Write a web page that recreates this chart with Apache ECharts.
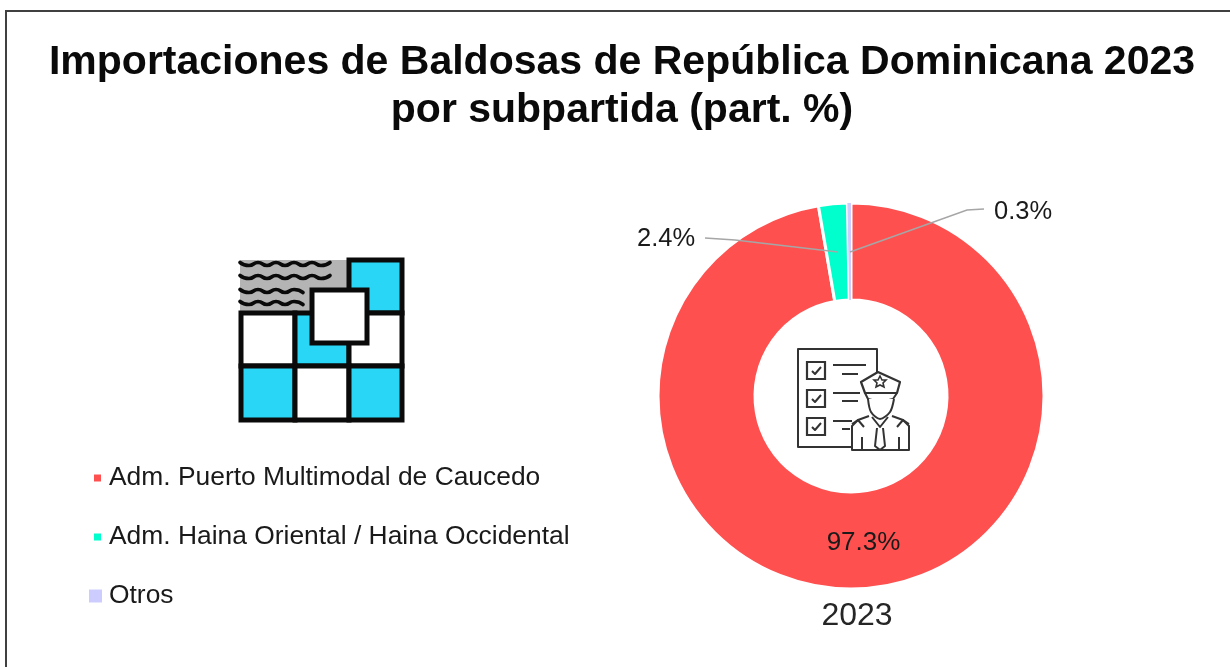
<!DOCTYPE html>
<html>
<head>
<meta charset="utf-8">
<script src="https://cdn.jsdelivr.net/npm/echarts@6/dist/echarts.min.js"></script>
<style>html,body{margin:0;padding:0;background:#fff}#c{width:1230px;height:667px}</style>
</head>
<body>
<div id="c"></div>
<script>
const titleText = 'Importaciones de Baldosas de República Dominicana 2023\npor subpartida (part. %)';
const categories = ['Adm. Puerto Multimodal de Caucedo', 'Adm. Haina Oriental / Haina Occidental', 'Otros'];
const values = [97.3, 2.4, 0.3];
const colors = ['#FF5050', '#00FFCC', '#CCCCFF'];
const yearLabel = '2023';

const FONT = '"Liberation Sans", Arial, sans-serif';
const ICON = '#333333';
const BLUE = '#29D6F6';
const K = '#0a0a0a';

function legendFor(i, left, top, size) {
  return {
    data: [categories[i]], left, top, orient: 'vertical', icon: 'rect',
    itemWidth: size, itemHeight: size, itemGap: 0, padding: 0,
    selectedMode: false,
    textStyle: { fontFamily: FONT, fontSize: 26.4, color: '#1a1a1a', padding: [0, 0, 0, 2] }
  };
}

function cell(x, y, w, h, fill) {
  return { type: 'rect', shape: { x, y, width: w, height: h }, style: { fill, stroke: K, lineWidth: 5 } };
}
function wave(x0, x1, y) {
  const pts = [];
  let up = true;
  for (let x = x0; x <= x1; x += 9) { pts.push([x, y + (up ? -1.5 : 1.5)]); up = !up; }
  return { type: 'polyline', shape: { points: pts, smooth: 0.6 }, style: { fill: null, stroke: K, lineWidth: 3.6, lineCap: 'round' } };
}
function line(pts, w) {
  return { type: 'polyline', shape: { points: pts }, style: { fill: null, stroke: ICON, lineWidth: w || 2, lineJoin: 'round' } };
}
function box(x, y, w, h) {
  return { type: 'rect', shape: { x, y, width: w, height: h }, style: { fill: '#fff', stroke: ICON, lineWidth: 2.2 } };
}

const tileIcon = [
  { type: 'rect', shape: { x: 240, y: 260, width: 110, height: 54 }, style: { fill: '#B4B4B4' } },
  wave(240, 338, 264), wave(240, 338, 277), wave(240, 303, 291), wave(240, 303, 303),
  cell(349, 260, 53, 53, BLUE),
  cell(241, 313, 54, 53, '#fff'), cell(295, 313, 54, 53, BLUE), cell(349, 313, 53, 53, '#fff'),
  cell(241, 366, 54, 54, BLUE), cell(295, 366, 54, 54, '#fff'), cell(349, 366, 53, 54, BLUE),
  cell(312, 290, 55, 53, '#fff')
];

const officerIcon = [
  line([[877, 372], [877, 349], [798, 349], [798, 447], [852, 447]]),
  box(807, 362, 18, 17), box(807, 390, 18, 17), box(807, 418, 18, 17),
  line([[812, 371], [815, 374], [821, 367]]), line([[812, 399], [815, 402], [821, 395]]), line([[812, 427], [815, 430], [821, 423]]),
  line([[833, 365], [866, 365]]), line([[842, 374], [858, 374]]),
  line([[833, 393], [860, 393]]), line([[842, 401], [858, 401]]),
  line([[833, 421], [852, 421]]), line([[842, 429], [850, 429]]),
  { type: 'polygon', shape: { points: [[861, 382], [878, 372], [900, 382], [897, 393], [865, 393]] }, style: { fill: '#fff', stroke: ICON, lineWidth: 2.2, lineJoin: 'round' } },
  { type: 'polygon', shape: { points: [[880, 376], [882, 380], [886, 380], [883, 383], [884, 387], [880, 385], [876, 387], [877, 383], [874, 380], [878, 380]] }, style: { fill: '#fff', stroke: ICON, lineWidth: 1.6 } },
  line([[865, 393], [868, 399], [880, 402], [893, 399], [897, 393]]),
  { type: 'polyline', shape: { points: [[868, 399], [871, 412], [880, 419], [890, 412], [894, 399]], smooth: 0.3 }, style: { fill: '#fff', stroke: ICON, lineWidth: 2 } },
  line([[869, 416], [858, 420], [852, 426], [852, 450], [909, 450], [909, 426], [903, 420], [892, 416]]),
  line([[872, 417], [880, 427], [888, 417]]),
  line([[877, 428], [875, 446], [880, 450], [885, 446], [883, 428]]),
  line([[862, 437], [862, 449]]), line([[899, 437], [899, 449]]),
  line([[852, 424], [858, 420], [864, 427]]), line([[897, 427], [903, 420], [909, 424]])
];

const chart = echarts.init(document.getElementById('c'), null, { renderer: 'canvas' });
chart.setOption({
  backgroundColor: '#ffffff',
  animation: false,
  title: [
    { text: titleText, left: 617, top: 34, textAlign: 'center',
      textStyle: { fontFamily: FONT, fontSize: 41, fontWeight: 'bold', color: '#0a0a0a', lineHeight: 48 } },
    { text: yearLabel, left: 852, top: 595, textAlign: 'center',
      textStyle: { fontFamily: FONT, fontSize: 32, fontWeight: 'normal', color: '#262626' } }
  ],
  legend: [
    legendFor(0, 92, 465, 9),
    legendFor(1, 92, 524, 9),
    legendFor(2, 89, 583, 13)
  ],
  series: [{
    type: 'pie',
    z: 2,
    center: [851, 396],
    radius: [96, 193],
    startAngle: 90,
    clockwise: true,
    avoidLabelOverlap: false,
    data: categories.map((name, i) => ({
      name, value: values[i],
      itemStyle: { color: colors[i], borderColor: '#fff', borderWidth: i === 2 ? 0 : 3 },
      label: { show: i === 0, position: 'inside' },
      labelLine: { show: false }
    })),
    label: {
      formatter: p => p.value.toFixed(1) + '%',
      fontFamily: FONT, fontSize: 26, color: '#1a1a1a'
    }
  }, {
    type: 'pie',
    z: 3,
    silent: true,
    center: [851, 396],
    radius: [96, 193],
    startAngle: 90,
    clockwise: true,
    avoidLabelOverlap: false,
    data: categories.map((name, i) => ({
      name, value: values[i],
      itemStyle: { color: 'rgba(0,0,0,0)' },
      label: { show: i !== 0, position: 'outside' },
      labelLine: { show: i !== 0 }
    })),
    label: {
      formatter: p => p.value.toFixed(1) + '%',
      fontFamily: FONT, fontSize: 25.5, color: '#1a1a1a'
    },
    labelLine: { show: true, lineStyle: { color: '#A6A6A6', width: 1.5 } },
    labelLayout: function (p) {
      if (p.dataIndex === 1) {
        return { x: 637, y: 239, align: 'left', verticalAlign: 'middle',
          labelLinePoints: [[705, 238], [735, 240], [838, 252]] };
      }
      if (p.dataIndex === 2) {
        return { x: 994, y: 212, align: 'left', verticalAlign: 'middle',
          labelLinePoints: [[850, 252], [967, 210], [984, 209]] };
      }
      return {};
    }
  }],
  graphic: {
    elements: [
      { type: 'polyline', silent: true, z: -1, shape: { points: [[6, 680], [6, 11], [1232, 11]] }, style: { fill: null, stroke: '#404040', lineWidth: 2 } },
      { type: 'group', silent: true, children: tileIcon },
      { type: 'group', silent: true, children: officerIcon }
    ]
  }
});
</script>
</body>
</html>
